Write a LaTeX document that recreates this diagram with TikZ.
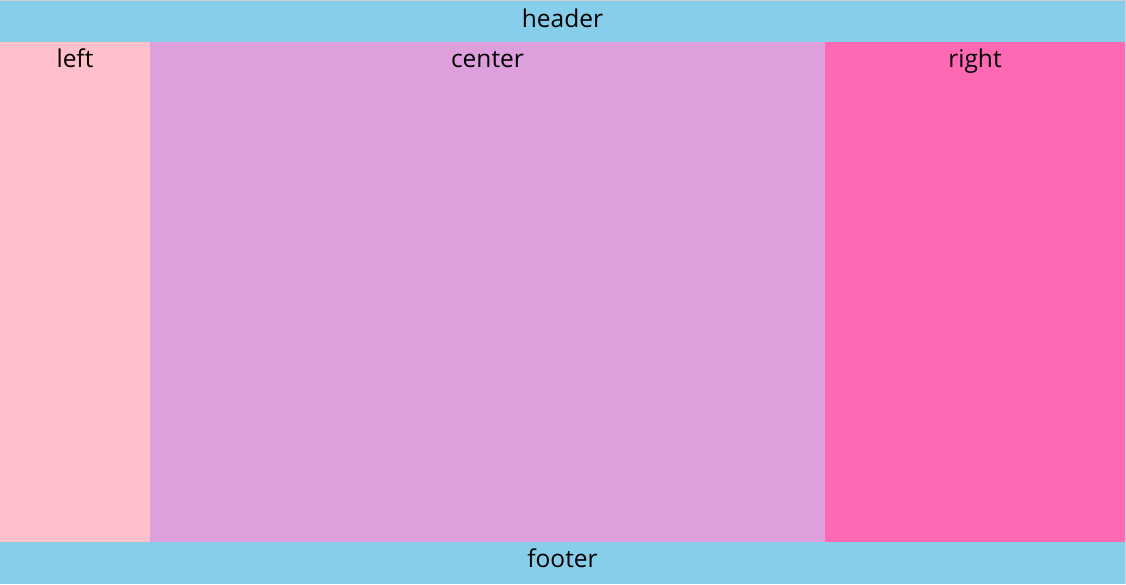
\documentclass[tikz,border=0pt]{standalone}
\usepackage{fontspec}
\setmainfont{Open Sans}
\usepackage{xcolor}
\usepackage{tikz}
\usetikzlibrary{positioning,calc}
\definecolor{bandblue}{RGB}{135, 206, 235}
\definecolor{leftpink}{RGB}{255, 192, 203}
\definecolor{midplum}{RGB}{221, 160, 221}
\definecolor{rightpink}{RGB}{255, 105, 180}
\definecolor{edgegrey}{RGB}{206, 206, 214}

\begin{document}
\begin{tikzpicture}[x=1pt, y=-1pt,
  region/.style={rectangle, anchor=north west, inner sep=0pt, outer sep=0pt, draw=none},
  tag/.style={anchor=base, inner sep=0pt, font=\fontsize{24.5}{29}\selectfont, text=black}
]

\useasboundingbox (0,0) rectangle (1126,584);
\fill[white] (0,0) rectangle (1126,584);
\fill[edgegrey] (0,0) rectangle (1126,1);
\fill[edgegrey] (1125,0) rectangle (1126,584);

% bands and columns
\node[region, fill=bandblue, minimum width=1125pt, minimum height=41pt] (header) at (0,1) {};
\node[region, fill=leftpink, minimum width=150pt, minimum height=500pt] (left) at (0,42) {};
\node[region, fill=midplum, minimum width=675pt, minimum height=500pt] (center) at (150,42) {};
\node[region, fill=rightpink, minimum width=300pt, minimum height=500pt] (right) at (825,42) {};
\node[region, fill=bandblue, minimum width=1125pt, minimum height=42pt] (footer) at (0,542) {};

% labels
\node[tag] (headertxt) at ([yshift=-26.5pt]header.north) {header};
\node[tag] (lefttxt) at ([yshift=-25.5pt]left.north) {left};
\node[tag] (centertxt) at ([yshift=-25.5pt]center.north) {center};
\node[tag] (righttxt) at ([yshift=-25.5pt]right.north) {right};
\node[tag] (footertxt) at ([yshift=-25.5pt]footer.north) {footer};

\end{tikzpicture}
\end{document}
